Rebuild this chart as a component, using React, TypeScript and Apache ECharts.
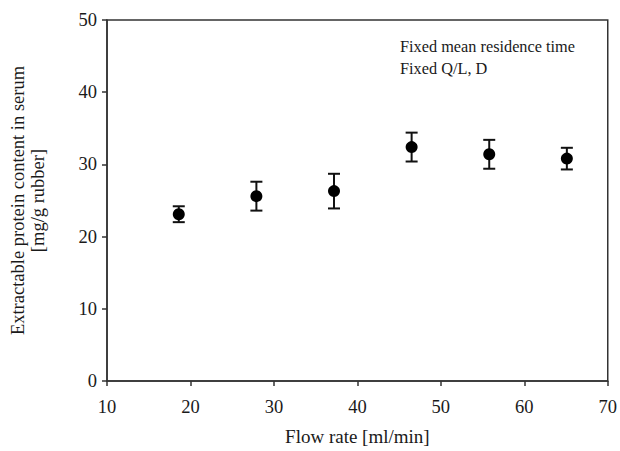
import React, { useEffect, useRef } from "react";
import * as echarts from "echarts";

const flowRate = [18.6, 27.9, 37.2, 46.5, 55.8, 65.1];
const protein = [23.1, 25.6, 26.3, 32.4, 31.4, 30.8];
const errors = [1.1, 2.0, 2.4, 2.0, 2.0, 1.5];
const annotations = ["Fixed mean residence time", "Fixed Q/L, D"];

const FONT = "'Liberation Serif', 'Times New Roman', serif";
const INK = "#1a1a1a";

export default function App() {
  const ref = useRef<HTMLDivElement>(null);
  useEffect(() => {
    if (!ref.current) return;
    const chart = echarts.init(ref.current, null, { renderer: "svg", width: 620, height: 451 });
    const errData = flowRate.map((x, i) => [x, protein[i] - errors[i], protein[i] + errors[i]]);
    chart.setOption({
      animation: false,
      backgroundColor: "#ffffff",
      grid: {
        left: 101,
        top: 20,
        width: 508,
        height: 368,
        show: true,
        borderColor: "#333",
        borderWidth: 1.5,
      },
      xAxis: {
        type: "value",
        min: 10,
        max: 70,
        interval: 10,
        name: "Flow rate [ml/min]",
        nameLocation: "middle",
        nameGap: 46,
        nameTextStyle: { fontFamily: FONT, fontSize: 19, color: INK },
        axisLine: { onZero: false, lineStyle: { color: "#333", width: 1.5 } },
        axisTick: { show: true, inside: false, length: 5, lineStyle: { color: "#333", width: 1.5 } },
        axisLabel: { fontFamily: FONT, fontSize: 18.5, color: INK, margin: 16 },
        splitLine: { show: false },
      },
      yAxis: {
        type: "value",
        min: 0,
        max: 50,
        interval: 10,
        name: "Extractable protein content in serum\n[mg/g rubber]",
        nameLocation: "middle",
        nameRotate: 90,
        nameGap: 59,
        nameTextStyle: { fontFamily: FONT, fontSize: 18.5, color: INK, lineHeight: 20 },
        axisLine: { show: true, lineStyle: { color: "#333", width: 1.5 } },
        axisTick: { show: true, inside: false, length: 5, lineStyle: { color: "#333", width: 1.5 } },
        axisLabel: { fontFamily: FONT, fontSize: 18.5, color: INK, margin: 10 },
        splitLine: { show: false },
      },
      graphic: [
        {
          type: "text",
          left: 400,
          top: 35,
          style: {
            text: annotations.join("\n"),
            font: `16.3px ${FONT}`,
            fill: INK,
            lineHeight: 22,
          },
        },
      ],
      series: [
        {
          type: "custom",
          data: errData,
          z: 2,
          renderItem: (params: any, api: any) => {
            const x = api.value(0);
            const lo = api.coord([x, api.value(1)]);
            const hi = api.coord([x, api.value(2)]);
            const hw = 6;
            const st = { stroke: "#111", lineWidth: 2 };
            return {
              type: "group",
              children: [
                { type: "line", shape: { x1: lo[0], y1: lo[1], x2: hi[0], y2: hi[1] }, style: st },
                { type: "line", shape: { x1: lo[0] - hw, y1: lo[1], x2: lo[0] + hw, y2: lo[1] }, style: st },
                { type: "line", shape: { x1: hi[0] - hw, y1: hi[1], x2: hi[0] + hw, y2: hi[1] }, style: st },
              ],
            };
          },
        },
        {
          type: "scatter",
          data: flowRate.map((x, i) => [x, protein[i]]),
          symbol: "circle",
          symbolSize: 12,
          itemStyle: { color: "#000", opacity: 1 },
          z: 3,
        },
      ],
    });
    return () => chart.dispose();
  }, []);
  return (
    <div
      ref={ref}
      style={{ position: "absolute", left: 0, top: 0, width: 620, height: 451 }}
    />
  );
}
